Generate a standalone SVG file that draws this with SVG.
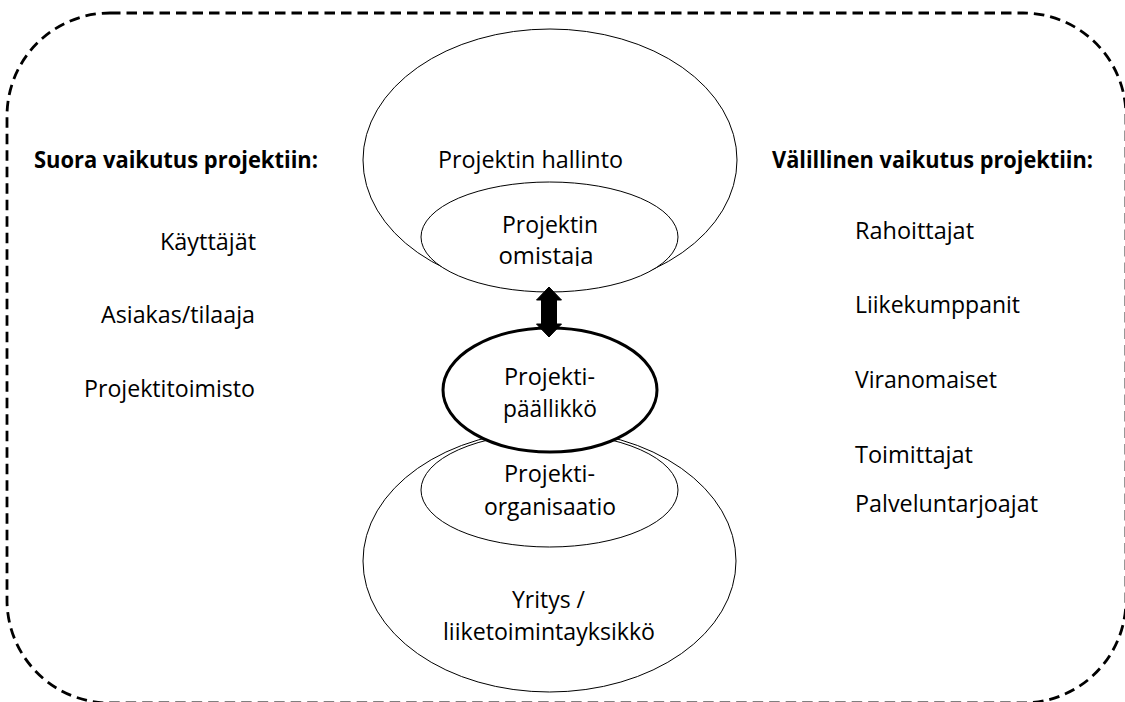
<svg xmlns="http://www.w3.org/2000/svg" width="1125" height="702" viewBox="0 0 1125 702">
<style>
  text { font-family: "Open Sans", "Noto Sans", "Liberation Sans", sans-serif; font-size: 23px; fill: #000; }
  .h { font-weight: bold; }
  .c { text-anchor: middle; }
  .e { text-anchor: end; }
  .thin { fill: #fff; stroke: #000; stroke-width: 1; }
  .bold { fill: #fff; stroke: #000; stroke-width: 3; }
  .frame { fill: none; stroke: #000; stroke-width: 2.8; stroke-dasharray: 10.5 6; }
</style>
<defs>
  <clipPath id="clipOwner"><rect x="400" y="180" width="300" height="86"/></clipPath>
</defs>
<rect id="frame" class="frame" x="7" y="13" width="1119" height="690" rx="103" ry="103"/>

<g id="left-labels">
  <text class="h" x="34" y="168" textLength="284" lengthAdjust="spacingAndGlyphs">Suora vaikutus projektiin:</text>
  <text class="e" x="256" y="250" textLength="96" lengthAdjust="spacingAndGlyphs">Käyttäjät</text>
  <text class="e" x="255" y="323" textLength="154" lengthAdjust="spacingAndGlyphs">Asiakas/tilaaja</text>
  <text class="e" x="255" y="397" textLength="171" lengthAdjust="spacingAndGlyphs">Projektitoimisto</text>
</g>

<g id="right-labels">
  <text class="h" x="772" y="168" textLength="321" lengthAdjust="spacingAndGlyphs">Välillinen vaikutus projektiin:</text>
  <text x="855" y="239" textLength="119" lengthAdjust="spacingAndGlyphs">Rahoittajat</text>
  <text x="855" y="313" textLength="165" lengthAdjust="spacingAndGlyphs">Liikekumppanit</text>
  <text x="855" y="388" textLength="142" lengthAdjust="spacingAndGlyphs">Viranomaiset</text>
  <text x="855" y="463" textLength="118" lengthAdjust="spacingAndGlyphs">Toimittajat</text>
  <text x="855" y="512" textLength="183" lengthAdjust="spacingAndGlyphs">Palveluntarjoajat</text>
</g>

<g id="node-hallinto">
  <ellipse class="thin" cx="550" cy="160" rx="187" ry="131"/>
  <text class="c" x="530.5" y="168" textLength="185" lengthAdjust="spacingAndGlyphs">Projektin hallinto</text>
</g>

<g id="node-omistaja">
  <ellipse class="thin" cx="549.5" cy="237" rx="128.5" ry="55"/>
  <text class="c" x="550" y="233" textLength="96" lengthAdjust="spacingAndGlyphs">Projektin</text>
  <text class="c" x="546" y="264" textLength="95" lengthAdjust="spacingAndGlyphs" clip-path="url(#clipOwner)">omistaja</text>
</g>

<g id="node-yritys">
  <ellipse class="thin" cx="549.5" cy="561" rx="186.5" ry="131"/>
  <text class="c" x="548.5" y="608" textLength="73" lengthAdjust="spacingAndGlyphs">Yritys /</text>
  <text class="c" x="549" y="640" textLength="212" lengthAdjust="spacingAndGlyphs">liiketoimintayksikkö</text>
</g>

<g id="node-organisaatio">
  <ellipse class="thin" cx="549.5" cy="490" rx="128.5" ry="57"/>
  <text class="c" x="549.5" y="482" textLength="91" lengthAdjust="spacingAndGlyphs">Projekti-</text>
  <text class="c" x="550" y="515" textLength="132" lengthAdjust="spacingAndGlyphs">organisaatio</text>
</g>

<g id="node-paallikko">
  <ellipse class="bold" cx="550" cy="390" rx="107" ry="62"/>
  <text class="c" x="549.5" y="385" textLength="91" lengthAdjust="spacingAndGlyphs">Projekti-</text>
  <text class="c" x="550" y="417" textLength="94" lengthAdjust="spacingAndGlyphs">päällikkö</text>
</g>

<g id="connectors">
  <polygon points="549,287 561.5,300 556.5,300 556.5,324 561.5,324 549,337 536.5,324 541.5,324 541.5,300 536.5,300" fill="#000" stroke="#000" stroke-width="1" stroke-linejoin="miter"/>
</g>
</svg>
